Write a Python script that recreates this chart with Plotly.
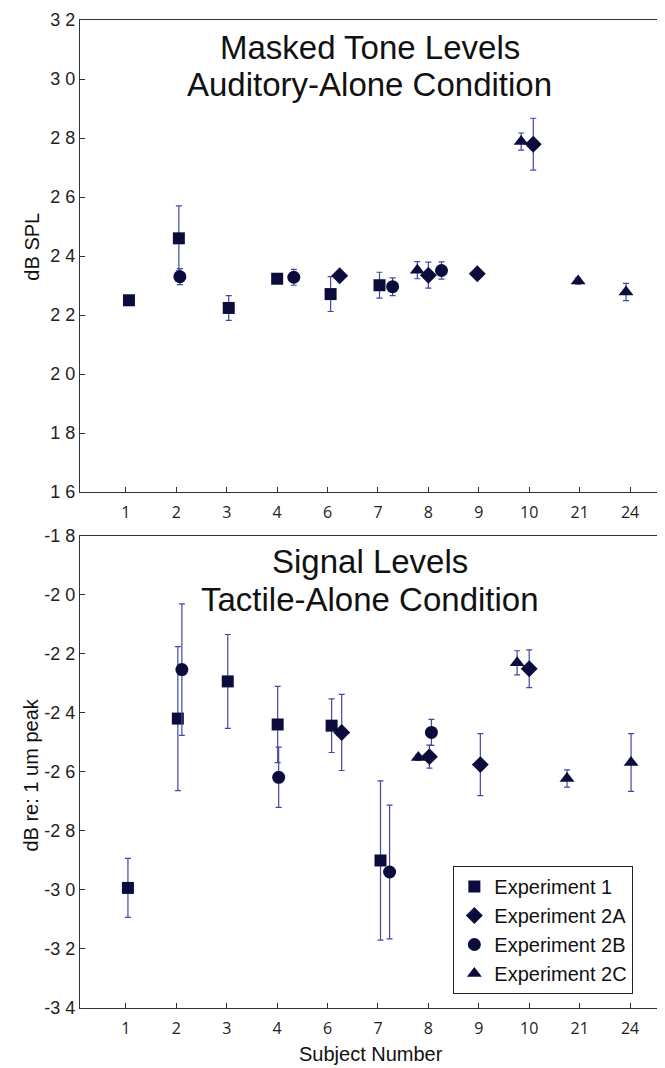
import plotly.graph_objects as go

# ---------------- data ----------------
subjects = ["1", "2", "3", "4", "6", "7", "8", "9", "10", "21", "24"]

exp1_subj = ["1", "2", "3", "4", "6", "7"]
exp1_aud = [22.5, 24.6, 22.24, 23.23, 22.71, 23.01]
exp1_aud_err = [0.1, 1.1, 0.42, 0.1, 0.59, 0.44]
exp1_tac = [-29.93, -24.19, -22.93, -24.39, -24.43, -29.0]
exp1_tac_err = [1.0, 2.44, 1.59, 1.29, 0.91, 2.7]

exp2a_subj = ["6", "8", "9", "10"]
exp2a_aud = [23.33, 23.35, 23.4, 27.79]
exp2a_aud_err = [0.05, 0.44, 0.05, 0.88]
exp2a_tac = [-24.66, -25.48, -25.75, -22.5]
exp2a_tac_err = [1.29, 0.39, 1.05, 0.64]

exp2b_subj = ["2", "4", "7", "8"]
exp2b_aud = [23.3, 23.28, 22.96, 23.51]
exp2b_aud_err = [0.27, 0.27, 0.3, 0.29]
exp2b_tac = [-22.53, -26.18, -29.39, -24.66]
exp2b_tac_err = [2.23, 1.02, 2.27, 0.44]

exp2c_subj = ["8", "10", "21", "24"]
exp2c_aud = [23.52, 27.88, 23.15, 22.78]
exp2c_aud_err = [0.29, 0.29, 0.1, 0.29]
exp2c_tac = [-25.51, -22.3, -26.22, -25.68]
exp2c_tac_err = [0.1, 0.41, 0.29, 0.98]

# horizontal placement of each marker relative to its subject tick (category units)
exp1_aud_off = [0.06, 0.05, 0.04, 0.0, 0.06, 0.03]
exp1_tac_off = [0.04, 0.03, 0.02, 0.01, 0.08, 0.05]
exp2a_aud_off = [0.24, 0.0, -0.03, 0.08]
exp2a_tac_off = [0.28, 0.02, 0.03, 0.0]
exp2b_aud_off = [0.07, 0.33, 0.29, 0.26]
exp2b_tac_off = [0.11, 0.03, 0.23, 0.06]
exp2c_aud_off = [-0.22, -0.16, -0.03, -0.08]
exp2c_tac_off = [-0.20, -0.24, -0.25, 0.02]

top_tick_vals = [16, 18, 20, 22, 24, 26, 28, 30, 32]
top_tick_text = ["1 6", "1 8", "2 0", "2 2", "2 4", "2 6", "2 8", "3 0", "3 2"]
bot_tick_vals = [-34, -32, -30, -28, -26, -24, -22, -20, -18]
bot_tick_text = ["-3 4", "-3 2", "-3 0", "-2 8", "-2 6", "-2 4", "-2 2", "-2 0", "-1 8"]

# ---------------- figure ----------------
# the page body adds an 8px margin, so the figure is sized/offset to compensate
W, H = 657, 1060
ML, MR, MT, MB = 72, 2, 10, 60
PH = H - MT - MB
PW = W - ML - MR


def py(pix):  # pix: vertical window pixel -> paper y
    return (H - MB - (pix - 8)) / PH


def px(pix):  # pix: horizontal window pixel -> paper x
    return (pix - 8 - ML) / PW


def xpos(subj, off):
    return [subjects.index(s) + 1 + o for s, o in zip(subj, off)]


MCOL = "#0c0c3c"
ECOL = "#4646a6"

experiments = [
    ("Experiment 1", "square", 12, exp1_subj, exp1_aud, exp1_aud_err, exp1_aud_off,
     exp1_tac, exp1_tac_err, exp1_tac_off),
    ("Experiment 2A", "diamond", 13, exp2a_subj, exp2a_aud, exp2a_aud_err, exp2a_aud_off,
     exp2a_tac, exp2a_tac_err, exp2a_tac_off),
    ("Experiment 2B", "circle", 13, exp2b_subj, exp2b_aud, exp2b_aud_err, exp2b_aud_off,
     exp2b_tac, exp2b_tac_err, exp2b_tac_off),
    ("Experiment 2C", "triangle-up", 13, exp2c_subj, exp2c_aud, exp2c_aud_err, exp2c_aud_off,
     exp2c_tac, exp2c_tac_err, exp2c_tac_off),
]

fig = go.Figure()
for name, sym, size, subj, aud, aerr, aoff, tac, terr, toff in experiments:
    fig.add_trace(go.Scatter(
        x=xpos(subj, aoff), y=aud, mode="markers", name=name, legendgroup=name,
        showlegend=False, xaxis="x", yaxis="y",
        marker=dict(symbol=sym, size=size, color=MCOL, line=dict(width=0)),
        error_y=dict(type="data", array=aerr, visible=True, color=ECOL,
                     thickness=1.2, width=3),
    ))
    fig.add_trace(go.Scatter(
        x=xpos(subj, toff), y=tac, mode="markers", name=name, legendgroup=name,
        showlegend=True, xaxis="x2", yaxis="y2",
        marker=dict(symbol=sym, size=size, color=MCOL, line=dict(width=0)),
        error_y=dict(type="data", array=terr, visible=True, color=ECOL,
                     thickness=1.2, width=3),
    ))

xr = [1 - 46 / 50.5, 11 + 32 / 50.5]
tickfont_x = dict(family="Open Sans, Noto Sans, sans-serif", size=16, color="#222")
tickfont_y = dict(family="Liberation Sans, Arial, sans-serif", size=18, color="#222")

xcommon = dict(range=xr, tickvals=list(range(1, len(subjects) + 1)), ticktext=subjects,
               showline=True, linecolor="#333", linewidth=1, mirror=True,
               ticks="inside", ticklen=5, tickcolor="#333", showgrid=False,
               zeroline=False, tickfont=tickfont_x, ticklabelstandoff=6)
ycommon = dict(showline=True, linecolor="#333", linewidth=1, mirror="ticks",
               ticks="inside", ticklen=5, tickcolor="#333", showgrid=False,
               zeroline=False, tickfont=tickfont_y)

top_dom = [py(491), 1.0]
bot_dom = [0.0, py(535)]

fig.update_layout(
    width=W, height=H,
    margin=dict(l=ML, r=MR, t=MT, b=MB),
    paper_bgcolor="white", plot_bgcolor="white",
    xaxis=dict(anchor="y", domain=[0, 1], **xcommon),
    xaxis2=dict(anchor="y2", domain=[0, 1], **xcommon),
    yaxis=dict(anchor="x", domain=top_dom, range=[16, 32], tickvals=top_tick_vals,
               ticktext=top_tick_text, **ycommon),
    yaxis2=dict(anchor="x2", domain=bot_dom, range=[-34, -18], tickvals=bot_tick_vals,
                ticktext=bot_tick_text, **ycommon),
    legend=dict(x=px(454), y=py(994), xanchor="left", yanchor="bottom",
                bordercolor="#222", borderwidth=1, bgcolor="white",
                font=dict(family="Liberation Sans, Arial, sans-serif", size=20, color="#111"),
                tracegroupgap=0, itemwidth=30),
    showlegend=True,
)

afont_title = dict(family="Liberation Sans, Arial, sans-serif", size=33, color="#111")
afont_lab = dict(family="Liberation Sans, Arial, sans-serif", size=20, color="#111")
ann = [
    ("Masked Tone Levels", 370, 46, afont_title, 0),
    ("Auditory-Alone Condition", 370, 83, afont_title, 0),
    ("Signal Levels", 370, 561, afont_title, 0),
    ("Tactile-Alone Condition", 370, 599, afont_title, 0),
    ("Subject Number", 372, 1054, afont_lab, 0),
    ("dB SPL", 31, 245, afont_lab, -90),
    ("dB re: 1 um peak", 31, 775, afont_lab, -90),
]
for text, x, y, f, ang in ann:
    fig.add_annotation(text=text, xref="paper", yref="paper", x=px(x), y=py(y),
                       xanchor="center", yanchor="middle", showarrow=False,
                       font=f, textangle=ang)

fig.write_html("out.html")
